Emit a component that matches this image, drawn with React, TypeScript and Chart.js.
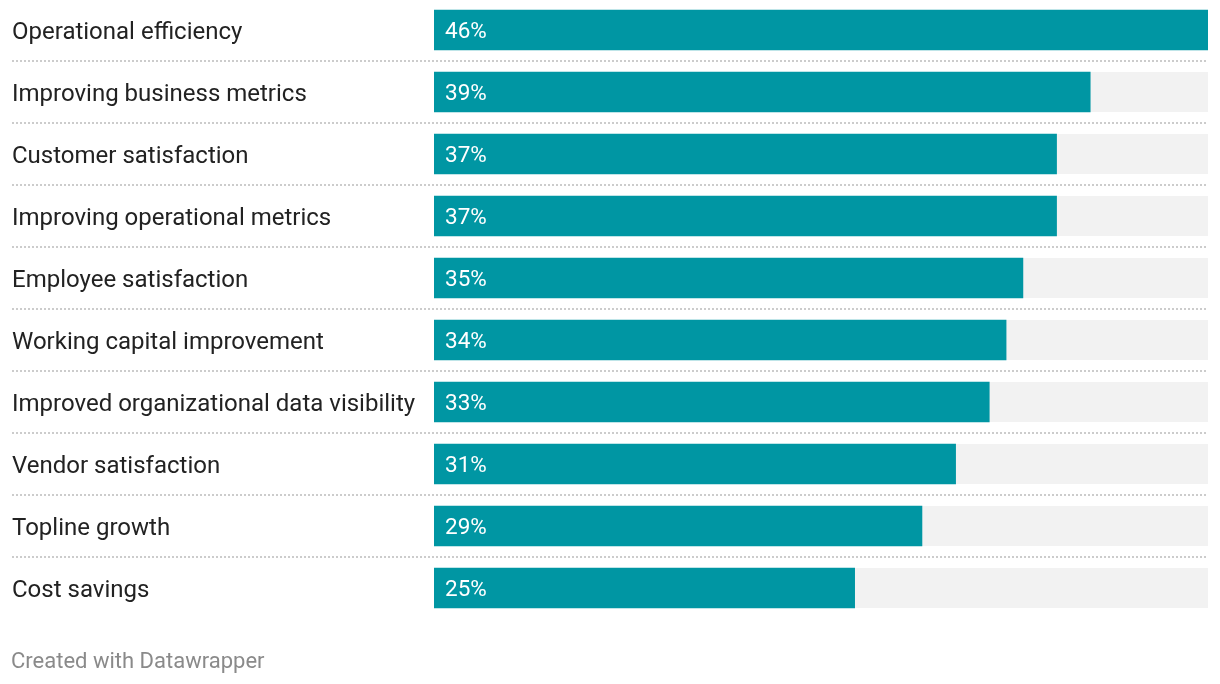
import React, { useEffect, useRef } from "react";
import { Chart, registerables } from "chart.js";

Chart.register(...registerables);

const categories = [
  "Operational efficiency",
  "Improving business metrics",
  "Customer satisfaction",
  "Improving operational metrics",
  "Employee satisfaction",
  "Working capital improvement",
  "Improved organizational data visibility",
  "Vendor satisfaction",
  "Topline growth",
  "Cost savings",
];
const values = [46, 39, 37, 37, 35, 34, 33, 31, 29, 25];
const scaleMax = 46;
const footerText = "Created with Datawrapper";

const FONT = "Roboto, 'Noto Sans', sans-serif";
const BAR_COLOR = "#0096a3";
const BG_COLOR = "#f2f2f2";

const decorPlugin = {
  id: "decor",
  beforeDatasetsDraw(chart: any) {
    const { ctx, chartArea } = chart;
    const meta = chart.getDatasetMeta(0);
    ctx.save();
    ctx.fillStyle = BG_COLOR;
    meta.data.forEach((bar: any) => {
      const h = bar.height;
      ctx.fillRect(chartArea.left, bar.y - h / 2, chartArea.right - chartArea.left, h);
    });
    ctx.strokeStyle = "#cccccc";
    ctx.lineWidth = 2;
    ctx.setLineDash([2, 2]);
    const yScale = chart.scales.y;
    for (let i = 0; i < meta.data.length - 1; i++) {
      const y = (yScale.getPixelForValue(i) + yScale.getPixelForValue(i + 1)) / 2;
      ctx.beginPath();
      ctx.moveTo(12, Math.round(y));
      ctx.lineTo(chartArea.right, Math.round(y));
      ctx.stroke();
    }
    ctx.restore();
  },
  afterDatasetsDraw(chart: any) {
    const { ctx } = chart;
    const meta = chart.getDatasetMeta(0);
    const data = chart.data.datasets[0].data;
    ctx.save();
    ctx.fillStyle = "#ffffff";
    ctx.font = `22.5px ${FONT}`;
    ctx.textBaseline = "middle";
    ctx.textAlign = "left";
    meta.data.forEach((bar: any, i: number) => {
      ctx.fillText(`${data[i]}%`, bar.base + 11, bar.y + 2);
    });
    ctx.fillStyle = "#8a8a8a";
    ctx.font = `22px ${FONT}`;
    ctx.textBaseline = "alphabetic";
    ctx.fillText(footerText, 11, 669);
    ctx.restore();
  },
};

export default function App() {
  const ref = useRef<HTMLCanvasElement>(null);
  useEffect(() => {
    const chart = new Chart(ref.current as HTMLCanvasElement, {
      type: "bar",
      data: {
        labels: categories,
        datasets: [
          {
            data: values,
            backgroundColor: BAR_COLOR,
            barThickness: 40,
            borderWidth: 0,
          },
        ],
      },
      options: {
        indexAxis: "y",
        animation: false,
        responsive: true,
        maintainAspectRatio: false,
        layout: { padding: { left: 12, right: 12, top: 0, bottom: 65 } },
        plugins: { legend: { display: false }, tooltip: { enabled: false } },
        scales: {
          x: { display: false, min: 0, max: scaleMax },
          y: {
            grid: { display: false },
            border: { display: false },
            afterFit(scale: any) {
              scale.width = 422;
              scale.paddingTop = 0;
              scale.paddingBottom = 0;
            },
            ticks: {
              crossAlign: "far",
              color: "#222222",
              padding: 0,
              labelOffset: 2.5,
              font: { family: FONT, size: 24 },
            },
          },
        },
      },
      plugins: [decorPlugin],
    } as any);
    return () => chart.destroy();
  }, []);
  return (
    <div style={{ position: "fixed", left: 0, top: -1, width: 1220, height: 685, background: "#fff" }}>
      <canvas ref={ref} />
    </div>
  );
}
